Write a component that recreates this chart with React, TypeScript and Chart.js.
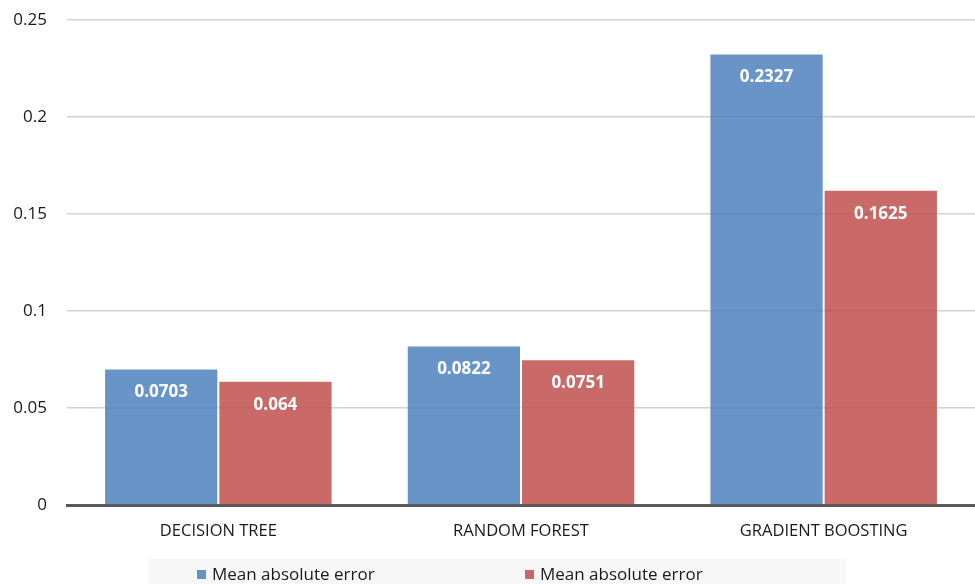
import React, { useEffect, useRef } from "react";
import { Chart, registerables } from "chart.js";

Chart.register(...registerables);

const categories = ["DECISION TREE", "RANDOM FOREST", "GRADIENT BOOSTING"];
const seriesALabel = "Mean absolute error";
const seriesBLabel = "Mean absolute error";
const seriesA = [0.0703, 0.0822, 0.2327];
const seriesB = [0.064, 0.0751, 0.1625];
const yMin = 0;
const yMax = 0.25;
const yStep = 0.05;

const BLUE = "rgba(79,129,189,0.85)";
const RED = "rgba(192,80,77,0.85)";
const FONT = "'Open Sans', 'DejaVu Sans', sans-serif";

// White bold value labels drawn just inside the top of each bar
const valueLabels = {
  id: "valueLabels",
  afterDatasetsDraw(chart: any) {
    const { ctx } = chart;
    ctx.save();
    ctx.font = `bold 17px ${FONT}`;
    ctx.fillStyle = "#ffffff";
    ctx.textAlign = "center";
    ctx.textBaseline = "middle";
    chart.data.datasets.forEach((ds: any, di: number) => {
      const meta = chart.getDatasetMeta(di);
      meta.data.forEach((bar: any, i: number) => {
        ctx.fillText(String(ds.data[i]), bar.x, bar.y + 24);
      });
    });
    ctx.restore();
  },
};

// Legend strip along the bottom edge
const bottomLegend = {
  id: "bottomLegend",
  afterDraw(chart: any) {
    const { ctx } = chart;
    ctx.save();
    ctx.fillStyle = "#f7f7f7";
    ctx.fillRect(148, 559, 698, 30);
    const xs = [197, 525];
    ctx.font = `17px ${FONT}`;
    ctx.textBaseline = "middle";
    ctx.textAlign = "left";
    chart.data.datasets.forEach((ds: any, di: number) => {
      const x = xs[di];
      ctx.fillStyle = ds.backgroundColor;
      ctx.fillRect(x, 570, 9, 9);
      ctx.fillStyle = "#1a1a1a";
      ctx.fillText(ds.label, x + 15, 575);
    });
    ctx.restore();
  },
};

export default function App() {
  const ref = useRef<HTMLCanvasElement>(null);

  useEffect(() => {
    document.body.style.margin = "0";
    const chart = new Chart(ref.current!, {
      type: "bar",
      data: {
        labels: categories,
        datasets: [
          {
            label: seriesALabel,
            data: seriesA,
            backgroundColor: BLUE,
            borderColor: "rgba(255,255,255,0.35)",
            borderWidth: 1,
            categoryPercentage: 0.755,
            barPercentage: 1,
          },
          {
            label: seriesBLabel,
            data: seriesB,
            backgroundColor: RED,
            borderColor: "rgba(255,255,255,0.35)",
            borderWidth: 1,
            categoryPercentage: 0.755,
            barPercentage: 1,
          },
        ],
      },
      options: {
        responsive: false,
        animation: false,
        layout: { padding: { top: 0, right: 0, bottom: 0, left: 0 } },
        plugins: {
          legend: { display: false },
          tooltip: { enabled: false },
        },
        scales: {
          x: {
            grid: { display: false, drawTicks: false },
            border: { display: true, color: "#595959", width: 3 },
            ticks: {
              color: "#1a1a1a",
              font: { family: FONT, size: 16.5 },
              padding: 16,
            },
            afterFit: (s: any) => {
              s.height = 79;
            },
          },
          y: {
            min: yMin,
            max: yMax,
            grid: { color: "#d2d2d2", lineWidth: 1.5, drawTicks: false },
            border: { display: false },
            ticks: {
              stepSize: yStep,
              color: "#1a1a1a",
              font: { family: FONT, size: 17 },
              padding: 20,
              callback: (v: any) => String(+Number(v).toFixed(4)),
            },
            afterFit: (s: any) => {
              s.width = 67;
              s.paddingTop = 20;
            },
          },
        },
      },
      plugins: [valueLabels, bottomLegend],
    });
    return () => chart.destroy();
  }, []);

  return <canvas ref={ref} width={975} height={584} style={{ display: "block" }} />;
}
